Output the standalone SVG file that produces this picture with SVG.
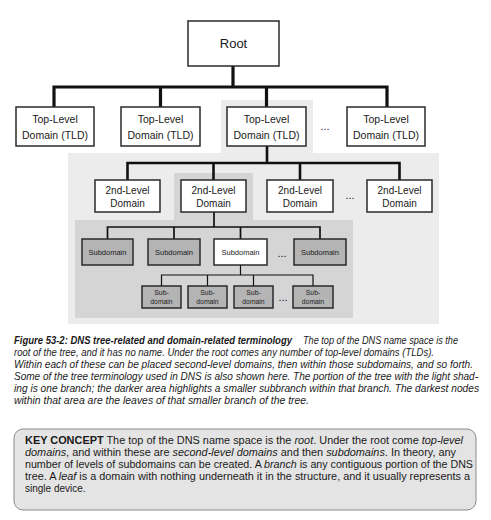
<svg xmlns="http://www.w3.org/2000/svg" width="491" height="520" viewBox="0 0 491 520">
<style>
text{font-family:"Liberation Sans",Arial,sans-serif;fill:#1a1a1a}
.box{fill:#fff;stroke:#2a2a2a;stroke-width:1.5}
.dbox{fill:#b4b4b4;stroke:#2a2a2a;stroke-width:1.5}
.c1{stroke:#111;stroke-width:3.2;fill:none}
.c2{stroke:#111;stroke-width:2.6;fill:none}
.c3{stroke:#111;stroke-width:1.7;fill:none}
.c4{stroke:#111;stroke-width:1.2;fill:none}
.t13{font-size:13px;text-anchor:middle}
.t11{font-size:10.5px;text-anchor:middle}
.t10{font-size:10px;text-anchor:middle}
.t8{font-size:7.5px;text-anchor:middle}
.t7{font-size:6.8px;text-anchor:middle}
.dots{font-size:11px;text-anchor:middle}
.cap{font-size:10px;font-style:italic}
.kc{font-size:10px}
.i{font-style:italic}
.b{font-weight:bold}
</style>
<g id="shading">
<path d="M221,100 H313 V153 H439 V324 H68 V153 H221 Z" fill="#ececec"/>
<path d="M174,173 H253 V220 H353 V318 H75 V220 H174 Z" fill="#d5d5d5"/>
</g>
<g id="connectors">
<path class="c1" d="M233,66 V87 M54,107 V87 H387 V107 M160.5,87 V107 M266.5,87 V107"/>
<path class="c2" d="M267,146 V163 M127.5,180 V163 H399.5 V180 M213.5,163 V180 M300,163 V180"/>
<path class="c3" d="M214,212 V227 M107.5,239 V227 H320 V239 M174,227 V239 M240.5,227 V239"/>
<path class="c4" d="M240.5,265 V275 M161.5,286 V275 H313 V286 M207.5,275 V286 M253.5,275 V286"/>
</g>
<g id="root"><rect class="box" x="188" y="21" width="91" height="45"/><text class="t13" x="233.5" y="48">Root</text></g>
<g id="tld1"><rect class="box" x="16" y="107" width="78" height="39"/><text class="t11" x="55" y="123">Top-Level</text><text class="t11" x="55" y="139">Domain (TLD)</text></g>
<g id="tld2"><rect class="box" x="121" y="107" width="79" height="39"/><text class="t11" x="160.5" y="123">Top-Level</text><text class="t11" x="160.5" y="139">Domain (TLD)</text></g>
<g id="tld3"><rect class="box" x="227" y="107" width="79" height="39"/><text class="t11" x="266.5" y="123">Top-Level</text><text class="t11" x="266.5" y="139">Domain (TLD)</text></g>
<g id="tld-more"><text class="dots" x="325" y="130">...</text></g>
<g id="tld4"><rect class="box" x="347" y="107" width="78" height="39"/><text class="t11" x="386" y="123">Top-Level</text><text class="t11" x="386" y="139">Domain (TLD)</text></g>
<g id="sld1"><rect class="box" x="95" y="180" width="65" height="32"/><text class="t10" x="127.5" y="194">2nd-Level</text><text class="t10" x="127.5" y="207">Domain</text></g>
<g id="sld2"><rect class="box" x="181" y="180" width="65" height="32"/><text class="t10" x="213.5" y="194">2nd-Level</text><text class="t10" x="213.5" y="207">Domain</text></g>
<g id="sld3"><rect class="box" x="267" y="180" width="66" height="32"/><text class="t10" x="300" y="194">2nd-Level</text><text class="t10" x="300" y="207">Domain</text></g>
<g id="sld-more"><text class="dots" x="350" y="199">...</text></g>
<g id="sld4"><rect class="box" x="367" y="180" width="65" height="32"/><text class="t10" x="399.5" y="194">2nd-Level</text><text class="t10" x="399.5" y="207">Domain</text></g>
<g id="sub1"><rect class="dbox" x="82" y="239" width="51" height="26"/><text class="t8" x="107.5" y="255">Subdomain</text></g>
<g id="sub2"><rect class="dbox" x="148" y="239" width="52" height="26"/><text class="t8" x="174" y="255">Subdomain</text></g>
<g id="sub3"><rect class="box" x="214" y="239" width="53" height="26"/><text class="t8" x="240.5" y="255">Subdomain</text></g>
<g id="sub-more"><text class="dots" x="282" y="257">...</text></g>
<g id="sub4"><rect class="dbox" x="294" y="239" width="52" height="26"/><text class="t8" x="320" y="255">Subdomain</text></g>
<g id="leaf1"><rect class="dbox" x="142" y="286" width="39" height="22"/><text class="t7" x="161.5" y="295">Sub-</text><text class="t7" x="161.5" y="304">domain</text></g>
<g id="leaf2"><rect class="dbox" x="188" y="286" width="39" height="22"/><text class="t7" x="207.5" y="295">Sub-</text><text class="t7" x="207.5" y="304">domain</text></g>
<g id="leaf3"><rect class="dbox" x="234" y="286" width="39" height="22"/><text class="t7" x="253.5" y="295">Sub-</text><text class="t7" x="253.5" y="304">domain</text></g>
<g id="leaf-more"><text class="dots" x="283" y="301">...</text></g>
<g id="leaf4"><rect class="dbox" x="293" y="286" width="40" height="22"/><text class="t7" x="313" y="295">Sub-</text><text class="t7" x="313" y="304">domain</text></g>
<g id="caption">
<text class="cap b" x="14" y="344" textLength="278" lengthAdjust="spacingAndGlyphs">Figure 53-2: DNS tree-related and domain-related terminology</text>
<text class="cap" x="303" y="344" textLength="155" lengthAdjust="spacingAndGlyphs">The top of the DNS name space is the</text>
<text class="cap" x="14" y="356" textLength="420" lengthAdjust="spacingAndGlyphs">root of the tree, and it has no name. Under the root comes any number of top-level domains (TLDs).</text>
<text class="cap" x="14" y="368" textLength="459" lengthAdjust="spacingAndGlyphs">Within each of these can be placed second-level domains, then within those subdomains, and so forth.</text>
<text class="cap" x="14" y="380" textLength="464" lengthAdjust="spacingAndGlyphs">Some of the tree terminology used in DNS is also shown here. The portion of the tree with the light shad-</text>
<text class="cap" x="14" y="392" textLength="465" lengthAdjust="spacingAndGlyphs">ing is one branch; the darker area highlights a smaller subbranch within that branch. The darkest nodes</text>
<text class="cap" x="14" y="404" textLength="295" lengthAdjust="spacingAndGlyphs">within that area are the leaves of that smaller branch of the tree.</text>
</g>
<g id="key-concept">
<rect x="14" y="429" width="462" height="81" rx="9" fill="#e4e4e4" stroke="#8a8a8a" stroke-width="1"/>
<text class="kc" x="25" y="444" textLength="438" lengthAdjust="spacingAndGlyphs"><tspan class="b">KEY CONCEPT</tspan>   The top of the DNS name space is the <tspan class="i">root</tspan>. Under the root come <tspan class="i">top-level</tspan></text>
<text class="kc" x="25" y="456" textLength="431" lengthAdjust="spacingAndGlyphs"><tspan class="i">domains</tspan>, and within these are <tspan class="i">second-level domains</tspan> and then <tspan class="i">subdomains</tspan>. In theory, any</text>
<text class="kc" x="25" y="468" textLength="448" lengthAdjust="spacingAndGlyphs">number of levels of subdomains can be created. A <tspan class="i">branch</tspan> is any contiguous portion of the DNS</text>
<text class="kc" x="25" y="480" textLength="445" lengthAdjust="spacingAndGlyphs">tree. A <tspan class="i">leaf</tspan> is a domain with nothing underneath it in the structure, and it usually represents a</text>
<text class="kc" x="25" y="492">single device.</text>
</g>
</svg>
